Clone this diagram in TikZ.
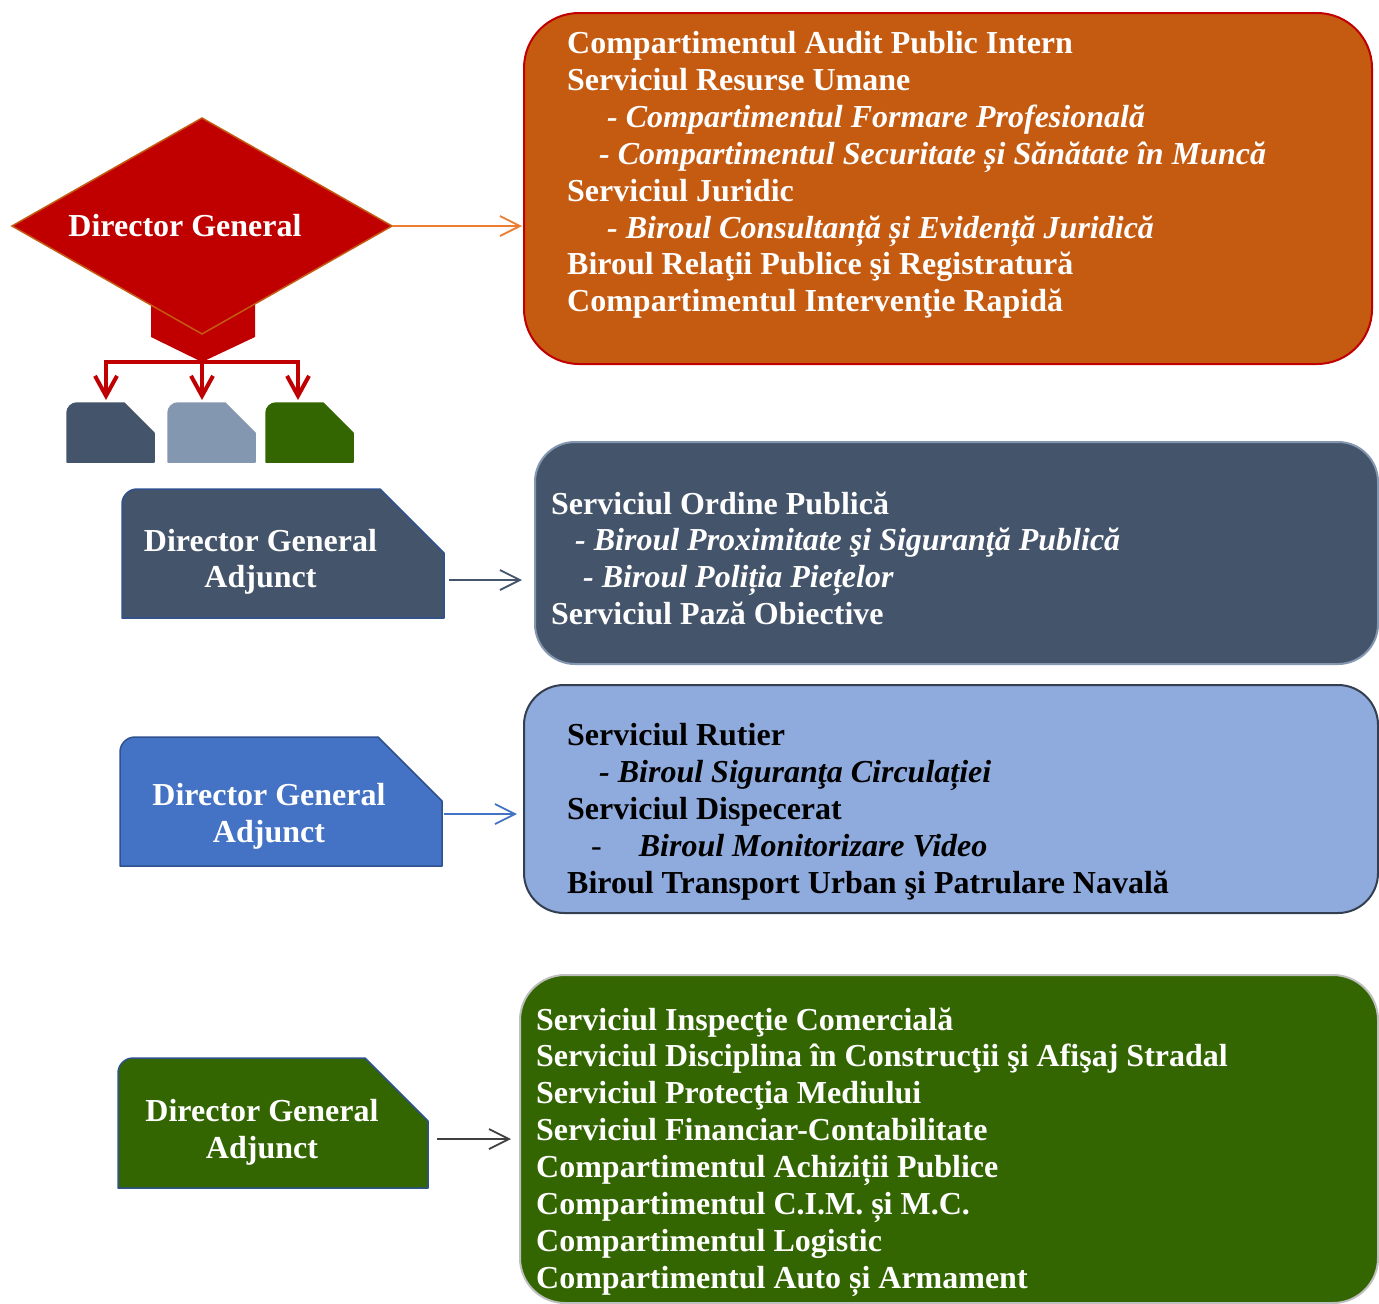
\documentclass[tikz,border=0pt]{standalone}
\usepackage{fontspec}
\setmainfont{Liberation Serif}
\usetikzlibrary{shapes.geometric,arrows.meta,positioning}

\definecolor{dgred}{HTML}{C00000}
\definecolor{dgedge}{HTML}{C55A11}
\definecolor{orgfill}{HTML}{C55A11}
\definecolor{arrorg}{HTML}{ED7D31}
\definecolor{slate}{HTML}{44546A}
\definecolor{slatelt}{HTML}{8497B0}
\definecolor{bluemid}{HTML}{4472C4}
\definecolor{bluedk}{HTML}{2F528F}
\definecolor{bluelt}{HTML}{8FAADC}
\definecolor{navyedge}{HTML}{333F50}
\definecolor{grn}{HTML}{336600}
\definecolor{grayedge}{HTML}{BFBFBF}
\definecolor{arrgray}{HTML}{404040}

% snipped box with one rounded corner: node, fill, edge, snip, radius
\newcommand{\snipframe}[5]{%
  \filldraw[fill=#2, draw=#3, line width=1.5pt, line join=round]
    (#1.south west) -- ([yshift=-#5]#1.north west)
    arc[start angle=180, end angle=90, radius=#5]
    -- ([xshift=-#4]#1.north east) -- ([yshift=-#4]#1.north east)
    -- (#1.south east) -- cycle;}
\newcommand{\sublin}[2][40pt]{\hspace*{#1}\textit{- #2}}

\begin{document}
\begin{tikzpicture}[x=1pt, y=-1pt,
    every node/.style={font=\fontsize{32}{36.9}\selectfont\bfseries},
    dgshape/.style={diamond, fill=dgred, draw=dgedge, line width=1.5pt,
      minimum width=380pt, minimum height=216pt, inner sep=0pt, outer sep=0pt},
    snipnode/.style={inner sep=0pt, outer sep=0pt},
    listbox/.style={rectangle, rounded corners=#1, line width=2pt,
      inner sep=0pt, outer sep=0pt},
    listtext/.style={anchor=base west, inner sep=0pt, text=white},
    headtext/.style={inner sep=0pt, text=white, align=center},
    redarrow/.style={draw=dgred, line width=4pt,
      -{Straight Barb[length=20pt,width=22pt]}, shorten >=3pt},
    boxlink/.style={line width=1.8pt, -{Straight Barb[length=20pt,width=20pt]}}]
\useasboundingbox (0,0) rectangle (1379,1304);

% right column
\node[listbox=55pt, fill=orgfill, draw=dgred, minimum width=848pt, minimum height=351pt] (orgbox) at (948,188.5) {};
\node[listbox=40pt, fill=slate, draw=slatelt, minimum width=843pt, minimum height=222pt] (ordbox) at (956.5,553) {};
\node[listbox=40pt, fill=bluelt, draw=navyedge, minimum width=854pt, minimum height=228pt] (rutbox) at (951,799) {};
\node[listbox=45pt, fill=grn, draw=grayedge, minimum width=858pt, minimum height=328pt] (grnbox) at (949,1139) {};

\node[listtext] (orgtxt) at (567,53.5) {\begin{tabular}[t]{@{}l@{}}
Compartimentul Audit Public Intern\\
Serviciul Resurse Umane\\
\sublin{Compartimentul Formare Profesională}\\
\sublin[32pt]{Compartimentul Securitate și Sănătate în Muncă}\\
Serviciul Juridic\\
\sublin{Biroul Consultanță și Evidență Juridică}\\
Biroul Relaţii Publice şi Registratură\\
Compartimentul Intervenţie Rapidă
\end{tabular}};
\node[listtext] (ordtxt) at (551,514) {\begin{tabular}[t]{@{}l@{}}
Serviciul Ordine Publică\\
\sublin[24pt]{Biroul Proximitate şi Siguranţă Publică}\\
\sublin[32pt]{Biroul Poliția Piețelor}\\
Serviciul Pază Obiective
\end{tabular}};
\node[listtext, text=black] (ruttxt) at (567,745.5) {\begin{tabular}[t]{@{}l@{}}
Serviciul Rutier\\
\sublin[32pt]{Biroul Siguranţa Circulației}\\
Serviciul Dispecerat\\
\hspace*{24pt}{\mdseries -}\hspace*{37pt}\textit{Biroul Monitorizare Video}\\
Biroul Transport Urban şi Patrulare Navală
\end{tabular}};
\node[listtext] (grntxt) at (536,1030) {\begin{tabular}[t]{@{}l@{}}
Serviciul Inspecţie Comercială\\
Serviciul Disciplina în Construcţii şi Afişaj Stradal\\
Serviciul Protecţia Mediului\\
Serviciul Financiar-Contabilitate\\
Compartimentul Achiziții Publice\\
Compartimentul C.I.M. și M.C.\\
Compartimentul Logistic\\
Compartimentul Auto și Armament
\end{tabular}};

% director general
\fill[dgred] (151,300) -- (255,300) -- (255,337) -- (202,362) -- (151,337) -- cycle;
\node[dgshape] (dg) at (202,226) {};
\node[headtext] (dgtxt) at ([xshift=-17pt]dg.center) {Director General};
\coordinate (bus) at ([yshift=-28pt]dg.south);

% small tabs
\node[snipnode, minimum width=87pt, minimum height=59pt] (sml1) at (110.5,432.5) {};
\node[snipnode, minimum width=87pt, minimum height=59pt, right=14pt of sml1] (sml2) {};
\node[snipnode, minimum width=87pt, minimum height=59pt, right=11pt of sml2] (sml3) {};
\snipframe{sml1}{slate}{slate}{30pt}{10pt}
\snipframe{sml2}{slatelt}{slatelt}{30pt}{10pt}
\snipframe{sml3}{grn}{grn}{30pt}{10pt}

\draw[redarrow] (bus) -| ([xshift=-4.5pt]sml1.north);
\draw[redarrow] (bus) -- (bus |- sml2.north);
\draw[redarrow] (bus) -| ([xshift=-11.5pt]sml3.north);

% adjuncts
\node[snipnode, minimum width=322pt, minimum height=129pt] (dga1) at (283,553.5) {};
\node[snipnode, minimum width=322pt, minimum height=129pt] (dga2) at (281,801.5) {};
\node[snipnode, minimum width=310pt, minimum height=130pt] (dga3) at (273,1123) {};
\snipframe{dga1}{slate}{bluedk}{64pt}{15pt}
\snipframe{dga2}{bluemid}{bluedk}{64pt}{15pt}
\snipframe{dga3}{grn}{bluedk}{63pt}{15pt}
\node[headtext] (dga1txt) at (260.5,561.75) {Director General\\Adjunct};
\node[headtext] (dga2txt) at (269,816) {Director General\\Adjunct};
\node[headtext] (dga3txt) at (262,1132) {Director General\\Adjunct};

% links
\draw[boxlink, draw=arrorg, shorten >=2pt] (dg.east) -- (dg.east -| orgbox.west);
\draw[boxlink, draw=slate, shorten <=5pt, shorten >=13pt]
  ([yshift=-26.5pt]dga1.east) -- ([yshift=-26.5pt]dga1.east -| ordbox.west);
\draw[boxlink, draw=bluemid, shorten <=2pt, shorten >=7pt]
  ([yshift=-12.5pt]dga2.east) -- ([yshift=-12.5pt]dga2.east -| rutbox.west);
\draw[boxlink, draw=arrgray, shorten <=9pt, shorten >=9pt]
  ([yshift=-16pt]dga3.east) -- ([yshift=-16pt]dga3.east -| grnbox.west);
\end{tikzpicture}
\end{document}
